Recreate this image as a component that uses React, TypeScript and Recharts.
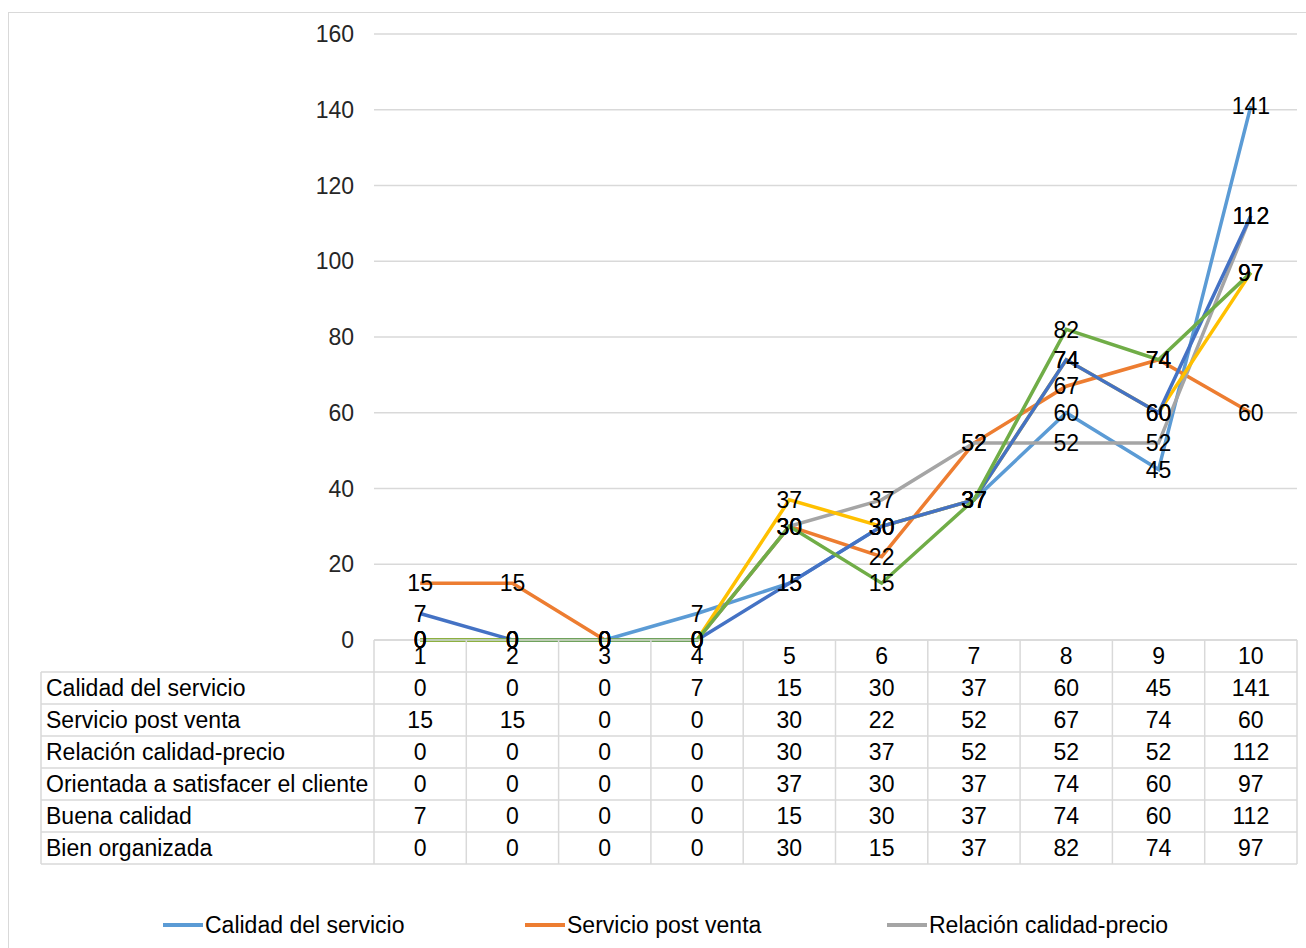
import React from "react"
import {
  LineChart,
  Line,
  XAxis,
  YAxis,
  CartesianGrid,
  Legend,
  LabelList,
} from "recharts"

const CATEGORIES = ["1", "2", "3", "4", "5", "6", "7", "8", "9", "10"]

const CALIDAD_SERVICIO = [0, 0, 0, 7, 15, 30, 37, 60, 45, 141]
const SERVICIO_POST_VENTA = [15, 15, 0, 0, 30, 22, 52, 67, 74, 60]
const RELACION_CALIDAD_PRECIO = [0, 0, 0, 0, 30, 37, 52, 52, 52, 112]
const ORIENTADA_CLIENTE = [0, 0, 0, 0, 37, 30, 37, 74, 60, 97]
const BUENA_CALIDAD = [7, 0, 0, 0, 15, 30, 37, 74, 60, 112]
const BIEN_ORGANIZADA = [0, 0, 0, 0, 30, 15, 37, 82, 74, 97]

const Y_TICKS = [0, 20, 40, 60, 80, 100, 120, 140, 160]

const SERIES = [
  { key: "s0", name: "Calidad del servicio", color: "#5B9BD5", values: CALIDAD_SERVICIO },
  { key: "s1", name: "Servicio post venta", color: "#ED7D31", values: SERVICIO_POST_VENTA },
  { key: "s2", name: "Relación calidad-precio", color: "#A5A5A5", values: RELACION_CALIDAD_PRECIO },
  { key: "s3", name: "Orientada a satisfacer el cliente", color: "#FFC000", values: ORIENTADA_CLIENTE },
  { key: "s4", name: "Buena calidad", color: "#4472C4", values: BUENA_CALIDAD },
  { key: "s5", name: "Bien organizada", color: "#70AD47", values: BIEN_ORGANIZADA },
]

const data = CATEGORIES.map((cat, i) => {
  const row: Record<string, string | number> = { cat }
  SERIES.forEach((s) => (row[s.key] = s.values[i]))
  return row
})

const FONT = "'Liberation Sans', Arial, sans-serif"
const FONT_SIZE = 23
const GRID = "#D9D9D9"

// chart geometry (svg coordinates)
const WIDTH = 1297
const HEIGHT = 1000
const MARGIN = { top: 21, right: 9, bottom: 0, left: 0 }
const Y_AXIS_W = 365
const PLOT_LEFT = MARGIN.left + Y_AXIS_W
const PLOT_W = WIDTH - MARGIN.right - PLOT_LEFT
const COL_W = PLOT_W / CATEGORIES.length
const ROW_H = 32
const TABLE_LEFT = 32
const TABLE_H = ROW_H * (SERIES.length + 1)

// x axis tick that draws one column of the data table (and the row labels on the first one)
function TableTick(props: any) {
  const { x, y, payload, index } = props
  const left = x - COL_W / 2
  const right = x + COL_W / 2
  const plotRight = PLOT_LEFT + PLOT_W
  return (
    <g fontFamily={FONT} fontSize={FONT_SIZE} fill="#000">
      {index === 0 && (
        <g>
          {SERIES.map((s, r) => (
            <line
              key={"h" + r}
              x1={TABLE_LEFT}
              x2={plotRight}
              y1={y + ROW_H * (r + 1)}
              y2={y + ROW_H * (r + 1)}
              stroke={GRID}
              strokeWidth={1.5}
            />
          ))}
          <line x1={TABLE_LEFT} x2={plotRight} y1={y + TABLE_H} y2={y + TABLE_H} stroke={GRID} strokeWidth={1.5} />
          <line x1={TABLE_LEFT} x2={TABLE_LEFT} y1={y + ROW_H} y2={y + TABLE_H} stroke={GRID} strokeWidth={1.5} />
          <line x1={left} x2={left} y1={y} y2={y + TABLE_H} stroke={GRID} strokeWidth={1.5} />
          {SERIES.map((s, r) => (
            <text key={"l" + r} x={TABLE_LEFT + 5} y={y + ROW_H * (r + 1.5)} dominantBaseline="central" fill="#000">
              {s.name}
            </text>
          ))}
        </g>
      )}
      <line x1={right} x2={right} y1={y} y2={y + TABLE_H} stroke={GRID} strokeWidth={1.5} />
      <text x={x} y={y + ROW_H / 2} textAnchor="middle" dominantBaseline="central" fill="#000">
        {payload.value}
      </text>
      {SERIES.map((s, r) => (
        <text
          key={s.key}
          x={x}
          y={y + ROW_H * (r + 1.5)}
          textAnchor="middle"
          dominantBaseline="central"
          fill="#000"
        >
          {s.values[index]}
        </text>
      ))}
    </g>
  )
}

function LegendRows() {
  return (
    <div
      style={{
        display: "flex",
        flexWrap: "wrap",
        width: 1086,
        marginLeft: 154,
        paddingTop: 44,
        height: 104,
        fontFamily: FONT,
        fontSize: FONT_SIZE,
        color: "#000",
      }}
    >
      {SERIES.map((s) => (
        <div key={s.key} style={{ width: 362, height: 32, display: "flex", alignItems: "center" }}>
          <span style={{ display: "inline-block", width: 40, height: 4, background: s.color, marginRight: 2 }} />
          <span>{s.name}</span>
        </div>
      ))}
    </div>
  )
}

export default function App() {
  return (
    <div style={{ position: "fixed", inset: 0, overflow: "hidden", background: "#fff" }}>
      <div
        style={{
          position: "absolute",
          left: 8,
          top: 12,
          width: 1320,
          height: 960,
          border: `1px solid ${GRID}`,
        }}
      >
        <LineChart width={WIDTH} height={HEIGHT} data={data} margin={MARGIN}>
          <CartesianGrid vertical={false} stroke={GRID} strokeWidth={1.5} />
          <XAxis
            dataKey="cat"
            height={TABLE_H + 1}
            padding={{ left: COL_W / 2, right: COL_W / 2 }}
            axisLine={{ stroke: GRID, strokeWidth: 1.5 }}
            tickLine={false}
            tickSize={0}
            tickMargin={0}
            interval={0}
            tick={<TableTick />}
          />
          <YAxis
            width={Y_AXIS_W}
            domain={[0, 160]}
            ticks={Y_TICKS}
            axisLine={false}
            tickLine={false}
            tickSize={0}
            tickMargin={20}
            tick={{ fontSize: FONT_SIZE, fill: "#262626", fontFamily: FONT }}
          />
          <Legend verticalAlign="bottom" content={() => <LegendRows />} />
          {SERIES.map((s) => (
            <Line
              key={s.key}
              dataKey={s.key}
              name={s.name}
              stroke={s.color}
              strokeWidth={3.5}
              dot={false}
              activeDot={false}
              isAnimationActive={false}
            >
              <LabelList
                dataKey={s.key}
                position="center"
                fill="#000"
                fontSize={FONT_SIZE}
                fontFamily={FONT}
              />
            </Line>
          ))}
        </LineChart>
      </div>
    </div>
  )
}
